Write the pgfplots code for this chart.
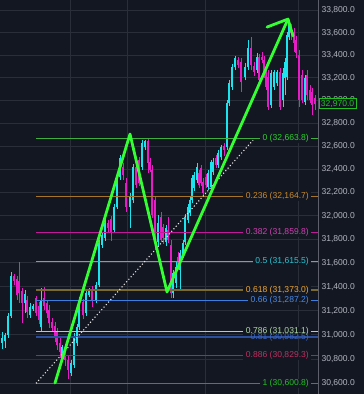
\documentclass[border=0pt]{standalone}
\usepackage{pgfplots}
\pgfplotsset{compat=1.18}
\usepackage{pgfplotstable}
\usepackage{fontspec}
\setmainfont{Liberation Sans}
\definecolor{bg}{HTML}{131722}
\definecolor{gridc}{HTML}{2A2E39}
\definecolor{sepc}{HTML}{5D606B}
\definecolor{tickc}{HTML}{B2B5BE}
\definecolor{upc}{HTML}{1DE3EE}
\definecolor{dnc}{HTML}{E81CC6}
\definecolor{zig}{HTML}{33FF33}
\definecolor{fA}{HTML}{3FAE3F}\definecolor{fAt}{HTML}{2ED12E}
\definecolor{fB}{HTML}{A8742A}\definecolor{fBt}{HTML}{C98A2E}
\definecolor{fC}{HTML}{C2189A}\definecolor{fCt}{HTML}{D13FB3}
\definecolor{fD}{HTML}{1FC5D0}\definecolor{fDt}{HTML}{27C6D4}
\definecolor{fE}{HTML}{7B6A2E}\definecolor{fEt}{HTML}{F0A830}
\definecolor{fF}{HTML}{3D7DE0}\definecolor{fFt}{HTML}{4A8AE8}
\definecolor{fG}{HTML}{A8D5A2}\definecolor{fGt}{HTML}{B0D8A8}
\definecolor{fH}{HTML}{2B4F9E}\definecolor{fHt}{HTML}{3A64C0}
\definecolor{fI}{HTML}{B0224F}\definecolor{fIt}{HTML}{C03060}
\definecolor{fJ}{HTML}{18A418}\definecolor{fJt}{HTML}{22C022}
\newcommand{\lblfont}{\fontsize{8.6}{10}\selectfont}

\pgfplotstableread{
x o h l c
2 30932 31022 30882 30974
5 30949 31014 30891 30998
8 30998 31180 30974 31155
11 31155 31523 31139 31490
25 31264 31372 31180 31339
30 31163 31264 31139 31230
33 31214 31255 31197 31239
41 31064 31389 31022 31289
62 30792 30916 30776 30899
71 30685 30792 30661 30767
74 30751 31014 30726 30990
77 30932 31089 30907 31064
79 31064 31314 31039 31289
86 31180 31372 31155 31347
89 31330 31389 31314 31364
96 31289 31439 31264 31414
99 31414 31793 31397 31768
102 31751 31861 31725 31836
105 31810 31971 31785 31938
114 31878 32099 31853 32074
117 32074 32375 32057 32349
120 32331 32522 32305 32495
130 32074 32193 31895 32159
133 32134 32444 32108 32418
142 32418 32652 32392 32626
145 32591 32655 32565 32640
158 31776 32005 31742 31938
166 31776 31921 31742 31895
173 31347 31540 31305 31515
176 31431 31607 31389 31565
180 31540 31708 31372 31683
183 31666 31793 31641 31768
185 31776 32014 31751 31988
188 31963 32099 31938 32074
190 32023 32159 31997 32134
192 32134 32349 32108 32322
194 32236 32375 32210 32349
197 32305 32452 32279 32418
208 32245 32392 32219 32366
211 32245 32478 32219 32461
213 32375 32495 32349 32461
218 32435 32565 32409 32539
221 32504 32609 32478 32591
227 32591 33002 32565 32976
229 32976 33178 32949 33152
232 33116 33320 33090 33293
235 33293 33391 33266 33373
245 33204 33328 33178 33293
248 33293 33534 33266 33462
257 33266 33417 33240 33382
271 32958 33266 32931 33240
274 33116 33266 33090 33249
277 33152 33266 33125 33249
283 33002 33284 32940 33240
285 33195 33373 33046 33337
287 33204 33605 33178 33579
289 33561 33713 33534 33668
305 32984 33222 32958 33195
}\up

\pgfplotstableread{
x o h l c
14 31490 31506 31414 31448
17 31464 31490 31289 31330
19 31448 31607 31264 31347
22 31364 31389 31097 31264
27 31289 31322 31139 31188
36 31305 31322 31155 31180
39 31239 31272 31089 31122
44 31305 31397 31205 31239
47 31264 31289 31139 31180
49 31205 31247 31056 31097
52 31105 31139 31022 31056
55 31072 31105 30941 30974
57 31022 31056 30874 30916
60 30932 30974 30808 30858
65 30891 30916 30743 30792
68 30792 30825 30636 30710
83 31272 31297 31130 31163
92 31372 31406 31230 31289
108 31938 31963 31861 31895
111 31971 31997 31785 31853
123 32418 32452 32305 32349
126 32279 32322 32031 32074
136 32418 32461 32236 32262
139 32478 32504 32253 32279
148 32640 32664 32366 32452
150 32461 32495 32375 32392
152 32392 32435 31980 32005
155 32134 32168 31776 31861
161 31988 32031 31776 31793
163 31904 31929 31759 31810
168 31878 31988 31768 31793
171 31751 31793 31305 31347
178 31649 31691 31540 31582
199 32366 32392 32236 32262
201 32409 32435 32253 32279
203 32288 32322 32168 32193
206 32331 32357 32236 32262
216 32495 32522 32409 32435
224 32600 32626 32513 32565
238 33355 33382 33284 33311
241 33337 33373 33072 33160
251 33462 33561 33266 33311
254 33302 33337 33213 33249
259 33382 33409 33134 33178
262 33382 33426 33328 33355
264 33355 33391 33195 33240
266 33266 33302 33090 33116
268 33204 33266 32914 32940
280 33249 33284 32914 32940
291 33641 33677 33534 33596
294 33605 33641 33426 33507
296 33534 33570 33373 33417
299 33399 33444 32940 33002
302 33222 33266 32976 33002
307 33222 33266 33002 33046
310 33090 33134 32976 33002
312 33072 33107 32870 32958
315 33020 33046 32914 32970
}\down

\newcommand{\drawcandles}[2]{%
  \pgfplotstablegetrowsof{#1}%
  \pgfmathtruncatemacro{\nrows}{\pgfplotsretval-1}%
  \pgfplotsforeachungrouped \i in {0,...,\nrows}{%
    \pgfplotstablegetelem{\i}{x}\of{#1}\let\cx\pgfplotsretval
    \pgfplotstablegetelem{\i}{o}\of{#1}\let\co\pgfplotsretval
    \pgfplotstablegetelem{\i}{h}\of{#1}\let\ch\pgfplotsretval
    \pgfplotstablegetelem{\i}{l}\of{#1}\let\cl\pgfplotsretval
    \pgfplotstablegetelem{\i}{c}\of{#1}\let\cc\pgfplotsretval
    \edef\temp{%
      \noexpand\addplot[#2, line width=0.8pt] coordinates {(\cx,\cl) (\cx,\ch)};
      \noexpand\addplot[#2, line width=2.4pt] coordinates {(\cx,\co) (\cx,\cc)};}%
    \temp}}

% log price scale (as on the chart): y mapped to 1000*ln(price/30000)
\pgfplotsset{logprice/.style={
  y coord trafo/.code={%
    \begingroup
    \pgfkeys{/pgf/fpu=true,/pgf/fpu/output format=fixed}%
    \pgfmathparse{1000*ln(##1/30000)}%
    \global\let\mylogres\pgfmathresult
    \endgroup
    \let\pgfmathresult\mylogres},
}}

\begin{document}
\begin{tikzpicture}
\fill[bg] (0,0) rectangle (364bp,394bp);
\path[use as bounding box] (0,0) rectangle (364bp,394bp);
\begin{axis}[
  logprice,
  at={(0,0)}, anchor=south west,
  scale only axis, width=318bp, height=394bp,
  xmin=0, xmax=318, ymin=30514, ymax=33893,
  clip=false,
  axis line style={draw=none},
  xtick={70,127,205,298}, xticklabels={},
  ytick={30600,30800,31000,31200,31400,31600,31800,32000,32200,32400,32600,32800,33000,33200,33400,33600,33800},
  yticklabels={{30,600.0},{30,800.0},{31,000.0},{31,200.0},{31,400.0},{31,600.0},{31,800.0},{32,000.0},{32,200.0},{32,400.0},{32,600.0},{32,800.0},{33,000.0},{33,200.0},{33,400.0},{33,600.0},{33,800.0}},
  yticklabel pos=right,
  major tick length=0pt,
  grid=major, major grid style={color=gridc, line width=0.8pt},
  yticklabel style={font=\lblfont, text=tickc, anchor=west, xshift=0bp},
]
\drawcandles{\up}{upc}
\drawcandles{\down}{dnc}
% fib levels
\addplot[fA, line width=0.8pt] coordinates {(36,32663.8) (318,32663.8)};
\addplot[fB, line width=0.8pt] coordinates {(36,32164.7) (318,32164.7)};
\addplot[fC, line width=0.8pt] coordinates {(36,31859.8) (318,31859.8)};
\addplot[fD, line width=0.8pt] coordinates {(36,31615.5) (318,31615.5)};
\addplot[fE, line width=2.6pt] coordinates {(36,31373.0) (318,31373.0)};
\addplot[fF, line width=0.8pt] coordinates {(36,31287.2) (318,31287.2)};
\addplot[fG, line width=0.8pt] coordinates {(36,31031.1) (318,31031.1)};
\addplot[fH, line width=1.8pt] coordinates {(36,30982.5) (318,30982.5)};
\addplot[fI, line width=0.8pt] coordinates {(36,30829.3) (318,30829.3)};
\addplot[fJ, line width=0.8pt] coordinates {(36,30600.8) (318,30600.8)};
% dotted trend line
\addplot[white!80!gray, line width=1.1pt, dash pattern=on 1.1pt off 2.3pt] coordinates {(36,30600.8) (253,32650)};
% green zigzag arrow
\addplot[zig, line width=2.8pt, line cap=round, line join=round] coordinates {(55,30603) (130,32704) (167,31355) (288,33722)};
\addplot[zig, line width=2.8pt, line cap=round, line join=round] coordinates {(267,33650) (288,33722) (293,33569)};
% labels
\node[anchor=east, fill=bg, inner xsep=2.5bp, inner ysep=0.5bp, text=fAt, font=\lblfont] at (axis cs:311.5,32663.8) {0 (32,663.8)};
\node[anchor=east, fill=bg, inner xsep=2.5bp, inner ysep=0.5bp, text=fBt, font=\lblfont] at (axis cs:311.5,32164.7) {0.236 (32,164.7)};
\node[anchor=east, fill=bg, inner xsep=2.5bp, inner ysep=0.5bp, text=fCt, font=\lblfont] at (axis cs:311.5,31859.8) {0.382 (31,859.8)};
\node[anchor=east, fill=bg, inner xsep=2.5bp, inner ysep=0.5bp, text=fDt, font=\lblfont] at (axis cs:311.5,31615.5) {0.5 (31,615.5)};
\node[anchor=east, fill=bg, inner xsep=2.5bp, inner ysep=0.5bp, text=fEt, font=\lblfont] at (axis cs:311.5,31373.0) {0.618 (31,373.0)};
\node[anchor=east, fill=bg, inner xsep=2.5bp, inner ysep=0.5bp, text=fFt, font=\lblfont] at (axis cs:311.5,31287.2) {0.66 (31,287.2)};
\node[anchor=east, fill=bg, inner xsep=2.5bp, inner ysep=0.2bp, text=fGt, font=\lblfont] at (axis cs:311.5,31031.1) {0.786 (31,031.1)};
\node[anchor=east, inner xsep=2.5bp, inner ysep=0.5bp, text=fHt, font=\lblfont] at (axis cs:311.5,30982.5) {0.81 (30,982.5)};
\node[anchor=east, fill=bg, inner xsep=2.5bp, inner ysep=0.5bp, text=fIt, font=\lblfont] at (axis cs:311.5,30829.3) {0.886 (30,829.3)};
\node[anchor=east, fill=bg, inner xsep=2.5bp, inner ysep=0.5bp, text=fJt, font=\lblfont] at (axis cs:311.5,30600.8) {1 (30,600.8)};
% price scale separator
\draw[sepc, line width=0.8pt] (axis cs:318,30514) -- (axis cs:318,33893);
% current price box
\node[anchor=west, fill=bg, draw=fJt, line width=0.8pt, inner xsep=2bp, inner ysep=1.5bp, text=fJt, font=\lblfont] at (axis cs:318.5,32970) {32,970.0};
\end{axis}
\end{tikzpicture}
\end{document}
